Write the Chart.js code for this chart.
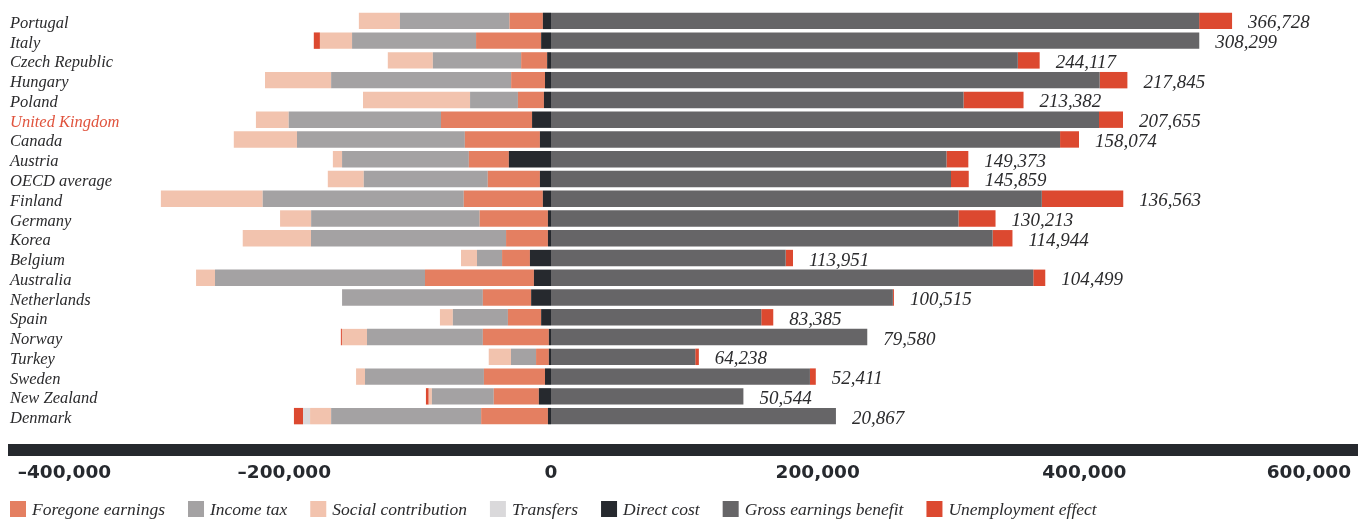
<!DOCTYPE html>
<html>
<head>
<meta charset="utf-8">
<script src="https://cdn.jsdelivr.net/npm/chart.js@4/dist/chart.umd.min.js"></script>
<style>
    html, body { margin: 0; padding: 0; background: #fff; }
    #wrap { width: 1358px; height: 522px; position: relative; }
</style>
</head>
<body>
<div id="wrap"><canvas id="chart"></canvas></div>
<script>
const countries = ['Portugal', 'Italy', 'Czech Republic', 'Hungary', 'Poland', 'United Kingdom', 'Canada',
    'Austria', 'OECD average', 'Finland', 'Germany', 'Korea', 'Belgium', 'Australia', 'Netherlands',
    'Spain', 'Norway', 'Turkey', 'Sweden', 'New Zealand', 'Denmark'];
const highlight = 'United Kingdom';

// costs (negative) and benefits (positive)
const directCost = [-6100, -7400, -2900, -4500, -5300, -14200, -8300, -31600, -8300, -6100, -2300,
    -2300, -15800, -12800, -14900, -7400, -1600, -1600, -4500, -9100, -2300];
const foregoneEarnings = [-25000, -48800, -19500, -25400, -19500, -68300, -56300, -30000, -39100, -59300, -51200,
    -31400, -20900, -81700, -36200, -24900, -49500, -9600, -45800, -33800, -50100];
const incomeTax = [-82200, -93000, -66200, -135000, -35900, -114200, -125900, -95100, -93000, -150800, -126400,
    -146300, -18800, -157500, -105600, -41300, -86900, -18800, -89200, -46400, -112500];
const socialContribution = [-30800, -24100, -33800, -49600, -80300, -24600, -47400, -6900, -27000, -76400, -23300,
    -51200, -12000, -14200, 0, -9700, -18800, -16700, -6700, -2400, -15800];
const transfers = [0, 0, 0, 0, 0, 0, 0, 0, 0, 0, 0, 0, 0, 0, 0, 0, 0, 0, 0, 0, -5300];
const grossEarnings = [486100, 486200, 350100, 411500, 309400, 411000, 381800, 296600, 300000, 368100, 305600,
    331200, 176000, 361700, 256400, 157700, 237200, 108200, 194200, 144300, 213700];
const unemploymentEffect = [24700, -4600, 16400, 20800, 45000, 18000, 14200, 16400, 13300, 61100, 27800,
    14900, 5500, 9000, 800, 9000, -800, 2700, 4400, -2100, -6800];
const netBenefit = [366728, 308299, 244117, 217845, 213382, 207655, 158074, 149373, 145859, 136563, 130213,
    114944, 113951, 104499, 100515, 83385, 79580, 64238, 52411, 50544, 20867];

const tickValues = [-400000, -200000, 0, 200000, 400000, 600000];
const legendOrder = ['Foregone earnings', 'Income tax', 'Social contribution', 'Transfers',
    'Direct cost', 'Gross earnings benefit', 'Unemployment effect'];

const TEXT = '#2b2b2d';
const SERIF = '"Liberation Serif", "DejaVu Serif", serif';

// order here = stacking order outward from zero
const series = [
    { label: 'Direct cost', data: directCost, color: '#26292e' },
    { label: 'Foregone earnings', data: foregoneEarnings, color: '#e47f61' },
    { label: 'Income tax', data: incomeTax, color: '#a4a2a3' },
    { label: 'Social contribution', data: socialContribution, color: '#f2c3ae' },
    { label: 'Transfers', data: transfers, color: '#dad9db' },
    { label: 'Gross earnings benefit', data: grossEarnings, color: '#666567' },
    { label: 'Unemployment effect', data: unemploymentEffect, color: '#dc4930' }
];

const rowLabels = {
    id: 'rowLabels',
    afterDatasetsDraw (chart) {
        const { ctx, scales: { x, y } } = chart;
        ctx.save();
        ctx.textBaseline = 'alphabetic';
        ctx.textAlign = 'left';
        countries.forEach((name, i) => {
            const cy = y.getPixelForValue(i);
            ctx.font = `italic 16.5px ${SERIF}`;
            ctx.fillStyle = name === highlight ? '#e0533d' : TEXT;
            ctx.fillText(name, 10, cy + 7);
            const end = grossEarnings[i] + Math.max(unemploymentEffect[i], 0);
            ctx.font = `italic 19px ${SERIF}`;
            ctx.fillStyle = TEXT;
            ctx.fillText(netBenefit[i].toLocaleString('en-US'), x.getPixelForValue(end) + 16, cy + 7.5);
        });
        ctx.restore();
    }
};

const axisBand = {
    id: 'axisBand',
    afterDraw (chart) {
        const { ctx, chartArea } = chart;
        ctx.save();
        ctx.fillStyle = '#26292e';
        ctx.fillRect(chartArea.left, chartArea.bottom + 18, chartArea.right - chartArea.left, 12);
        ctx.restore();
    }
};

const bottomLegend = {
    id: 'bottomLegend',
    afterDraw (chart) {
        const { ctx } = chart;
        ctx.save();
        ctx.font = `italic 17.5px ${SERIF}`;
        ctx.textBaseline = 'alphabetic';
        ctx.textAlign = 'left';
        let lx = 10;
        legendOrder.forEach((name) => {
            const ds = chart.data.datasets.find(d => d.label === name);
            ctx.fillStyle = ds.backgroundColor;
            ctx.fillRect(lx, 501, 16, 16);
            ctx.fillStyle = TEXT;
            ctx.fillText(name, lx + 22, 515);
            lx += 22 + ctx.measureText(name).width + 23;
        });
        ctx.restore();
    }
};

new Chart(document.getElementById('chart'), {
    type: 'bar',
    data: {
        labels: countries,
        datasets: series.map(s => ({
            label: s.label,
            data: s.data,
            backgroundColor: s.color,
            borderWidth: 0,
            categoryPercentage: 1,
            barPercentage: 0.83
        }))
    },
    options: {
        indexAxis: 'y',
        responsive: true,
        maintainAspectRatio: false,
        animation: false,
        layout: { padding: { left: 8, right: 0, top: 11, bottom: 0 } },
        plugins: {
            legend: { display: false },
            tooltip: { enabled: false }
        },
        scales: {
            x: {
                stacked: true,
                min: -407250,
                max: 605250,
                // tick marks are not drawn, their length only pushes the labels below the band
                grid: { display: false, drawTicks: true, tickLength: 36 },
                border: { display: false },
                afterBuildTicks: (scale) => {
                    scale.ticks = tickValues.map(value => ({ value }));
                },
                afterFit: (scale) => { scale.height = 96; },
                ticks: {
                    align: 'inner',
                    autoSkip: false,
                    maxRotation: 0,
                    padding: 0,
                    color: '#26292e',
                    font: { family: '"DejaVu Sans"', size: 18.5, weight: 'bold' },
                    callback: (v) => (v < 0 ? '\u2013' : '') + Math.abs(v).toLocaleString('en-US')
                }
            },
            y: {
                stacked: true,
                display: false
            }
        }
    },
    plugins: [rowLabels, axisBand, bottomLegend]
});
</script>
</body>
</html>
